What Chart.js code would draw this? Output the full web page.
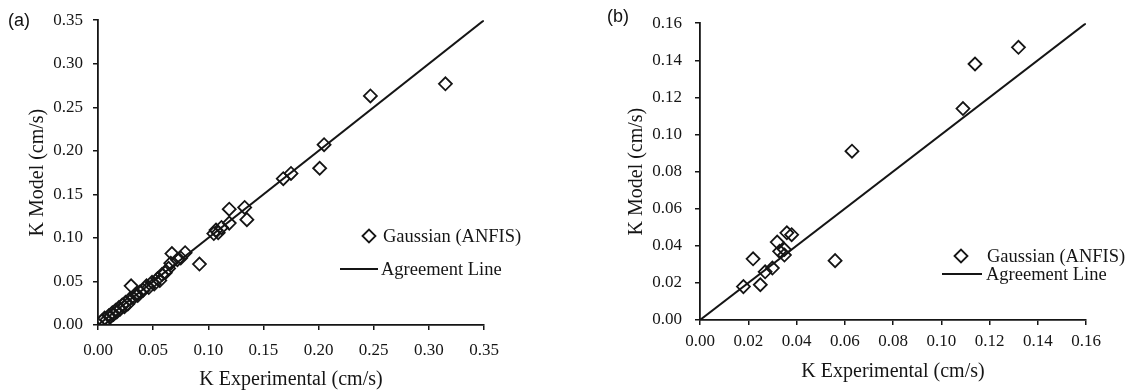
<!DOCTYPE html>
<html>
<head>
<meta charset="utf-8">
<script src="https://cdn.jsdelivr.net/npm/chart.js@4.4.1/dist/chart.umd.min.js"></script>
<style>
  html, body { margin: 0; padding: 0; background: #fff; }
  #wrap { position: relative; width: 1143px; height: 392px; overflow: hidden; background: #fff; }
  canvas { position: absolute; top: 0; }
  #chartA { left: 0; }
  #chartB { left: 560px; }
  .tag { position: absolute; font-family: "Liberation Sans", Arial, sans-serif; font-size: 18px; line-height: 1; color: #111; }
</style>
</head>
<body>
<div id="wrap">
  <canvas id="chartA" width="560" height="392" style="width:560px;height:392px"></canvas>
  <canvas id="chartB" width="583" height="392" style="width:583px;height:392px"></canvas>
  <div class="tag" style="left:8px;top:11px">(a)</div>
  <div class="tag" style="left:607px;top:7px">(b)</div>
</div>
<script>
// Panel (a): measured vs. modelled K
const expA   = [0.004,0.006,0.008,0.010,0.011,0.013,0.014,0.016,0.017,0.019,0.020,0.022,0.024,0.025,0.027,0.029,0.030,0.032,0.034,0.036,0.038,0.041,0.044,0.046,0.049,0.051,0.054,0.056,0.058,0.061,0.064,0.066,0.067,0.072,0.075,0.079,0.092,0.105,0.107,0.109,0.112,0.119,0.119,0.133,0.135,0.168,0.175,0.201,0.205,0.247,0.315];
const modelA = [0.005,0.008,0.006,0.011,0.009,0.014,0.012,0.017,0.015,0.020,0.018,0.023,0.021,0.026,0.024,0.030,0.045,0.031,0.035,0.034,0.038,0.040,0.045,0.043,0.049,0.047,0.053,0.051,0.058,0.060,0.065,0.071,0.082,0.075,0.077,0.083,0.070,0.105,0.109,0.106,0.112,0.133,0.117,0.135,0.121,0.168,0.174,0.180,0.207,0.263,0.277];
const agreeA = [0, 0.35];
const ticksA = [0.00,0.05,0.10,0.15,0.20,0.25,0.30,0.35];

// Panel (b): measured vs. modelled K
const expB   = [0.018,0.022,0.025,0.027,0.030,0.032,0.033,0.035,0.035,0.036,0.038,0.056,0.063,0.109,0.114,0.132];
const modelB = [0.018,0.033,0.019,0.026,0.028,0.042,0.037,0.038,0.035,0.047,0.046,0.032,0.091,0.114,0.138,0.147];
const agreeB = [0, 0.16];
const ticksB = [0.00,0.02,0.04,0.06,0.08,0.10,0.12,0.14,0.16];

const seriesName = 'Gaussian (ANFIS)';
const lineName = 'Agreement Line';
const xTitle = 'K Experimental (cm/s)';
const yTitle = 'K Model (cm/s)';

const INK = '#151515';
const SERIF = '"Liberation Serif", "Times New Roman", Times, serif';
const MARK = { radius: 6.5, width: 1.8 };

function diamond(ctx, x, y, r) {
  ctx.beginPath();
  ctx.moveTo(x - r, y);
  ctx.lineTo(x, y - r);
  ctx.lineTo(x + r, y);
  ctx.lineTo(x, y + r);
  ctx.closePath();
  ctx.stroke();
}

// In-plot key: marker entry and line entry, placed by the chart's own options
const keyLegend = {
  id: 'keyLegend',
  afterDraw(chart, args, o) {
    const ctx = chart.ctx;
    const ds = chart.data.datasets;
    ctx.save();
    ctx.strokeStyle = INK;
    ctx.fillStyle = INK;
    ctx.lineWidth = MARK.width;
    diamond(ctx, o.markX, o.markY, MARK.radius);
    ctx.font = '18.5px ' + SERIF;
    ctx.textBaseline = 'middle';
    ctx.textAlign = 'left';
    ctx.fillText(ds[0].label, o.textX, o.markY + 1);
    ctx.lineWidth = 2;
    ctx.beginPath();
    ctx.moveTo(o.lineX1, o.lineY);
    ctx.lineTo(o.lineX2, o.lineY);
    ctx.stroke();
    ctx.fillText(ds[1].label, o.lineTextX, o.lineY + 1);
    ctx.restore();
  }
};

function axis(ticks, o, title, vertical) {
  return {
    type: 'linear',
    min: ticks[0],
    max: ticks[ticks.length - 1],
    afterBuildTicks(s) { s.ticks = ticks.map(v => ({ value: v })); },
    afterFit(s) { if (vertical) s.width = o.size; else s.height = o.size; },
    ticks: {
      callback: v => Number(v).toFixed(2),
      font: { family: SERIF, size: 17 },
      color: INK,
      padding: o.labelPad,
      maxRotation: 0,
      autoSkip: false
    },
    grid: { drawOnChartArea: false, drawTicks: true, tickLength: 5, color: INK, lineWidth: 1.5 },
    border: { display: true, color: INK, width: 1.8 },
    title: {
      display: true,
      text: title,
      font: { family: SERIF, size: 20 },
      color: INK,
      padding: o.titlePad
    }
  };
}

function buildChart(id, exp, model, agree, ticks, L) {
  const pts = exp.map((x, i) => ({ x: x, y: model[i] }));
  const line = agree.map(v => ({ x: v, y: v }));
  return new Chart(document.getElementById(id), {
    type: 'scatter',
    data: {
      datasets: [
        {
          label: seriesName,
          data: pts,
          pointStyle: 'rectRot',
          pointRadius: MARK.radius,
          pointBorderWidth: MARK.width,
          borderColor: INK,
          backgroundColor: 'rgba(0,0,0,0)',
          order: 1
        },
        {
          label: lineName,
          data: line,
          showLine: true,
          borderColor: INK,
          borderWidth: 2,
          pointRadius: 0,
          fill: false,
          order: 2
        }
      ]
    },
    options: {
      responsive: false,
      animation: false,
      events: [],
      layout: { padding: L.padding },
      plugins: {
        legend: { display: false },
        tooltip: { enabled: false },
        keyLegend: L.key
      },
      scales: {
        x: axis(ticks, L.x, xTitle, false),
        y: axis(ticks, L.y, yTitle, true)
      }
    },
    plugins: [keyLegend]
  });
}

buildChart('chartA', expA, modelA, agreeA, ticksA, {
  padding: { left: 0, top: 19, right: 76, bottom: 0 },
  x: { size: 67, labelPad: 10, titlePad: { top: 0, bottom: 0 } },
  y: { size: 98, labelPad: 10, titlePad: { top: 26, bottom: 0 } },
  key: { markX: 369, markY: 236, textX: 383, lineX1: 340, lineX2: 378, lineY: 269, lineTextX: 381 }
});

buildChart('chartB', expB, modelB, agreeB, ticksB, {
  padding: { left: 0, top: 12, right: 57, bottom: 0 },
  x: { size: 72, labelPad: 6, titlePad: { top: 0, bottom: 8 } },
  y: { size: 140, labelPad: 13, titlePad: { top: 65, bottom: 0 } },
  key: { markX: 401, markY: 256, textX: 427, lineX1: 382, lineX2: 422, lineY: 274, lineTextX: 426 }
});
</script>
</body>
</html>
